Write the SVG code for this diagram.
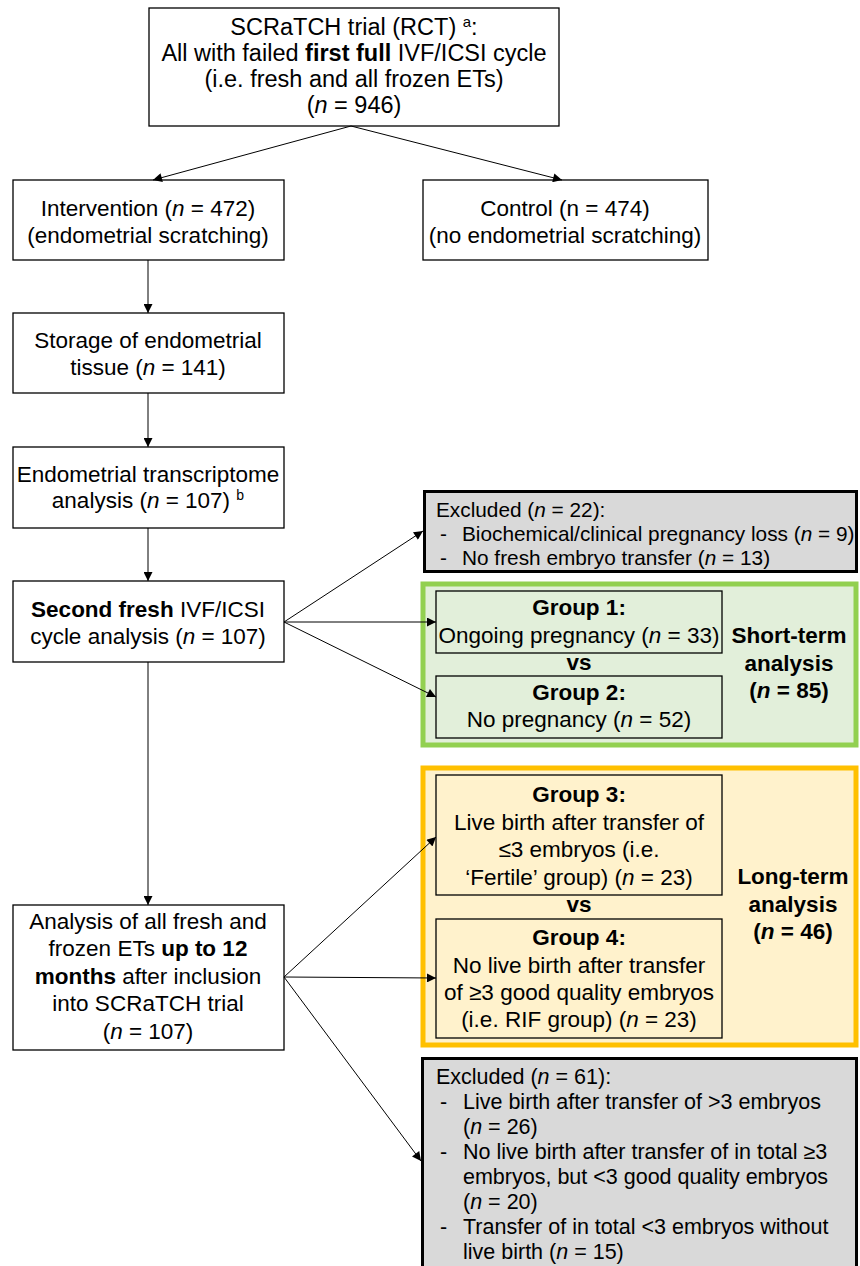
<svg xmlns="http://www.w3.org/2000/svg" width="860" height="1266" viewBox="0 0 860 1266">
<style>
text{font-family:"Liberation Sans",Arial,sans-serif;font-size:22.5px;fill:#000;text-anchor:middle}
.l{text-anchor:start}
.s{font-size:20.8px}
.s2{font-size:21.5px}
.t{font-size:23.5px}
.b{font-weight:bold}
.i{font-style:italic}
.box{fill:#fff;stroke:#000;stroke-width:1.3}
.grp{fill:none;stroke:#000;stroke-width:1.3}
.exc{fill:#d9d9d9;stroke:#000;stroke-width:3}
.con{stroke:#000;stroke-width:1;fill:none;marker-end:url(#ah)}
</style>
<defs>
<marker id="ah" viewBox="0 0 10 10" refX="10" refY="5" markerWidth="11" markerHeight="9" markerUnits="userSpaceOnUse" orient="auto">
<path d="M0,0 L10,5 L0,10 z" fill="#000"/>
</marker>
</defs>
<rect width="860" height="1266" fill="#fff"/>

<g id="n-trial">
<rect class="box" x="149" y="8" width="410" height="118"/>
<text class="t" x="354" y="35">SCRaTCH trial (RCT) <tspan font-size="15" dy="-8">a</tspan><tspan dy="8">:</tspan></text>
<text class="t" x="354" y="61">All with failed <tspan class="b">first full</tspan> IVF/ICSI cycle</text>
<text class="t" x="354" y="87">(i.e. fresh and all frozen ETs)</text>
<text class="t" x="354" y="113">(<tspan class="i">n</tspan> = 946)</text>
</g>

<g id="n-intervention">
<rect class="box" x="13" y="180" width="271" height="80"/>
<text x="148" y="216">Intervention (<tspan class="i">n</tspan> = 472)</text>
<text x="148" y="243">(endometrial scratching)</text>
</g>

<g id="n-control">
<rect class="box" x="423" y="180" width="285" height="80"/>
<text x="565" y="216">Control (n = 474)</text>
<text x="565" y="243">(no endometrial scratching)</text>
</g>

<g id="n-storage">
<rect class="box" x="13" y="313" width="271" height="80"/>
<text x="148" y="348">Storage of endometrial</text>
<text x="148" y="375">tissue (<tspan class="i">n</tspan> = 141)</text>
</g>

<g id="n-transcriptome">
<rect class="box" x="13" y="447" width="271" height="81"/>
<text x="148" y="482">Endometrial transcriptome</text>
<text x="148" y="508">analysis (<tspan class="i">n</tspan> = 107) <tspan font-size="14" dy="-8">b</tspan></text>
</g>

<g id="n-second">
<rect class="box" x="13" y="581" width="271" height="81"/>
<text x="148" y="617"><tspan class="b">Second fresh</tspan> IVF/ICSI</text>
<text x="148" y="644">cycle analysis (<tspan class="i">n</tspan> = 107)</text>
</g>

<g id="n-analysis">
<rect class="box" x="13" y="905" width="271" height="145"/>
<text x="148" y="929">Analysis of all fresh and</text>
<text x="148" y="956">frozen ETs <tspan class="b">up to 12</tspan></text>
<text x="148" y="984"><tspan class="b">months</tspan> after inclusion</text>
<text x="148" y="1011">into SCRaTCH trial</text>
<text x="148" y="1039">(<tspan class="i">n</tspan> = 107)</text>
</g>

<g id="n-excluded1">
<rect class="exc" x="424.5" y="491.5" width="432" height="80"/>
<text class="l s" x="436" y="517">Excluded (<tspan class="i">n</tspan> = 22):</text>
<text class="l s" x="440" y="541">-</text>
<text class="l s" x="462" y="541">Biochemical/clinical pregnancy loss (<tspan class="i">n</tspan> = 9)</text>
<text class="l s" x="440" y="565">-</text>
<text class="l s" x="462" y="565">No fresh embryo transfer (<tspan class="i">n</tspan> = 13)</text>
</g>

<g id="n-shortterm">
<rect x="423" y="584" width="433" height="161" fill="#e2efda" stroke="#92d050" stroke-width="5"/>
<text class="b" x="789" y="643">Short-term</text>
<text class="b" x="789" y="671">analysis</text>
<text class="b" x="789" y="698">(<tspan class="i">n</tspan> = 85)</text>
<text class="b" x="579" y="670">vs</text>
</g>

<g id="n-group1">
<rect class="grp" x="436" y="591" width="286" height="62"/>
<text class="b" x="579" y="615">Group 1:</text>
<text x="579" y="643">Ongoing pregnancy (<tspan class="i">n</tspan> = 33)</text>
</g>

<g id="n-group2">
<rect class="grp" x="436" y="676" width="286" height="62"/>
<text class="b" x="579" y="700">Group 2:</text>
<text x="579" y="727">No pregnancy (<tspan class="i">n</tspan> = 52)</text>
</g>

<g id="n-longterm">
<rect x="423" y="768" width="433" height="277" fill="#fff2cc" stroke="#ffc000" stroke-width="5"/>
<text class="b" x="793" y="884">Long-term</text>
<text class="b" x="793" y="912">analysis</text>
<text class="b" x="793" y="939">(<tspan class="i">n</tspan> = 46)</text>
<text class="b" x="579" y="912">vs</text>
</g>

<g id="n-group3">
<rect class="grp" x="436" y="775" width="286" height="120"/>
<text class="b" x="579" y="802">Group 3:</text>
<text x="579" y="830">Live birth after transfer of</text>
<text x="579" y="857">≤3 embryos (i.e.</text>
<text x="579" y="885">‘Fertile’ group) (<tspan class="i">n</tspan> = 23)</text>
</g>

<g id="n-group4">
<rect class="grp" x="436" y="919" width="286" height="119"/>
<text class="b" x="579" y="945">Group 4:</text>
<text x="579" y="973">No live birth after transfer</text>
<text x="579" y="1000">of ≥3 good quality embryos</text>
<text x="579" y="1027">(i.e. RIF group) (<tspan class="i">n</tspan> = 23)</text>
</g>

<g id="n-excluded2">
<rect class="exc" x="422.5" y="1058.5" width="434" height="212"/>
<text class="l s2" x="436" y="1084">Excluded (<tspan class="i">n</tspan> = 61):</text>
<text class="l s2" x="440" y="1109">-</text>
<text class="l s2" x="463" y="1109">Live birth after transfer of &gt;3 embryos</text>
<text class="l s2" x="463" y="1134">(<tspan class="i">n</tspan> = 26)</text>
<text class="l s2" x="440" y="1159">-</text>
<text class="l s2" x="463" y="1159">No live birth after transfer of in total ≥3</text>
<text class="l s2" x="463" y="1184">embryos, but &lt;3 good quality embryos</text>
<text class="l s2" x="463" y="1209">(<tspan class="i">n</tspan> = 20)</text>
<text class="l s2" x="440" y="1234">-</text>
<text class="l s2" x="463" y="1234">Transfer of in total &lt;3 embryos without</text>
<text class="l s2" x="463" y="1259">live birth (<tspan class="i">n</tspan> = 15)</text>
</g>

<g id="connectors">
<line class="con" x1="351" y1="126" x2="153" y2="180"/>
<line class="con" x1="351" y1="126" x2="562" y2="180"/>
<line class="con" x1="148" y1="260" x2="148" y2="313"/>
<line class="con" x1="148" y1="393" x2="148" y2="447"/>
<line class="con" x1="148" y1="528" x2="148" y2="581"/>
<line class="con" x1="148" y1="662" x2="148" y2="905"/>
<line class="con" x1="284" y1="622" x2="423" y2="531"/>
<line class="con" x1="284" y1="622" x2="436" y2="622"/>
<line class="con" x1="284" y1="622" x2="436" y2="697"/>
<line class="con" x1="284" y1="977" x2="436" y2="837"/>
<line class="con" x1="284" y1="977" x2="436" y2="978"/>
<line class="con" x1="284" y1="977" x2="421" y2="1161"/>
</g>
</svg>
